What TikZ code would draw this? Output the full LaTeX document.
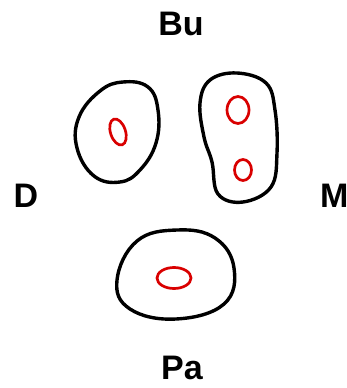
\documentclass[tikz,border=0pt]{standalone}
\usepackage{fontspec}
\setmainfont{Liberation Sans}
\begin{document}
\begin{tikzpicture}[x=1pt,y=-1pt,
  blob/.style={draw=black,line width=3.4pt,line join=round},
  core/.style={draw=red!85!black,line width=2.7pt},
  lab/.style={font=\fontsize{34}{40}\selectfont\bfseries,inner sep=0pt}]
\useasboundingbox (0,0) rectangle (347,388);
% labels
\node[lab] (bu) at (181,24) {Bu};
\node[lab] (pa) at (182,368) {Pa};
\node[lab] (d) at (26,196) {D};
\node[lab,anchor=west] (m) at (320,196) {M};
% left blob
\draw[blob] plot[smooth cycle,tension=0.7] coordinates {
 (100,91) (123,82) (148,87) (158,110) (156,143) (140,170) (120,182)
 (94,176) (77,148) (79,117)};
\draw[core,rotate around={18:(118,132)}] (118,132) ellipse [x radius=7.5,y radius=13.5];
% right blob
\draw[blob] plot[smooth cycle,tension=0.65] coordinates {
 (237,73) (266,83) (275,110) (277,153) (271,187) (243,202) (218,194)
 (212,162) (204,137) (200,103) (210,80)};
\draw[core] (238,110) ellipse [x radius=11,y radius=13.5];
\draw[core] (243,170) ellipse [x radius=8.5,y radius=10.5];
% bottom blob
\draw[blob] plot[smooth cycle,tension=0.7] coordinates {
 (177,230) (215,238) (234,268) (224,304) (176,319) (130,309)
 (117,280) (137,241)};
\draw[core] (174,278) ellipse [x radius=17,y radius=10.5];
\end{tikzpicture}
\end{document}
